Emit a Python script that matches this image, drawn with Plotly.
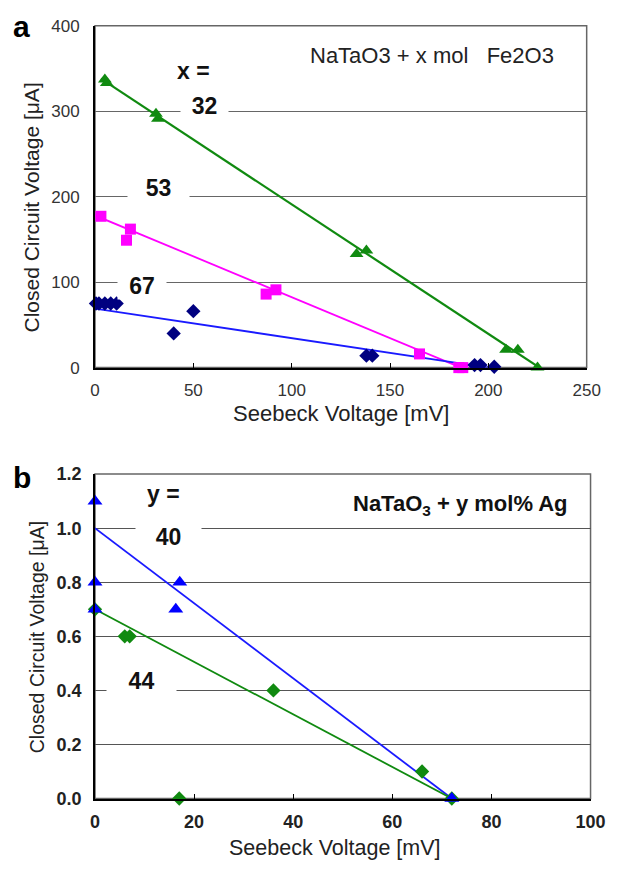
import plotly.graph_objects as go

W, H = 622, 873

# ---------- Panel a data (NaTaO3 + x mol Fe2O3) ----------
fe32_x = [5, 6, 31, 32, 133, 138, 209, 215, 225]
fe32_y = [337, 333, 297, 291, 133, 137, 21, 21, 0]
fe53_x = [3, 16, 18, 87, 92, 165, 185, 187]
fe53_y = [177, 149, 162, 86, 91, 16, 0, 0]
fe67_x = [0.5, 2, 5, 8, 11, 40, 50, 138, 141, 193, 196, 203]
fe67_y = [75, 75, 75, 75, 75, 40, 66, 14, 14, 3, 3, 1]
fit32_x, fit32_y = [3, 226], [338, 0]
fit53_x, fit53_y = [0, 186], [178, 0]
fit67_x, fit67_y = [0, 200], [69, 0]

# ---------- Panel b data (NaTaO3 + y mol% Ag) ----------
ag40_x = [0, 0, 0, 16.3, 17.1, 72]
ag40_y = [1.1, 0.8, 0.7, 0.7, 0.8, 0]
ag44_x = [0, 6, 7, 17, 36, 66, 72]
ag44_y = [0.7, 0.6, 0.6, 0, 0.4, 0.1, 0]
fit40_x, fit40_y = [0, 72], [1.0, 0]
fit44_x, fit44_y = [0, 72], [0.7, 0]

FONT = "Arial, Liberation Sans, sans-serif"


def px(x):
    return x / W


def py(y):
    return 1 - y / H


fig = go.Figure()

# Panel a traces
fig.add_trace(go.Scatter(x=fit32_x, y=fit32_y, mode="lines", line=dict(color="#108a10", width=2.2),
                         xaxis="x", yaxis="y", showlegend=False))
fig.add_trace(go.Scatter(x=fit53_x, y=fit53_y, mode="lines", line=dict(color="#ff00ff", width=1.8),
                         xaxis="x", yaxis="y", showlegend=False))
fig.add_trace(go.Scatter(x=fit67_x, y=fit67_y, mode="lines", line=dict(color="#1a1aff", width=1.8),
                         xaxis="x", yaxis="y", showlegend=False))
fig.add_trace(go.Scatter(x=fe32_x, y=fe32_y, mode="markers",
                         marker=dict(symbol="triangle-up", size=12, color="#108a10"),
                         xaxis="x", yaxis="y", showlegend=False, cliponaxis=False))
fig.add_trace(go.Scatter(x=fe53_x, y=fe53_y, mode="markers",
                         marker=dict(symbol="square", size=11, color="#ff00ff"),
                         xaxis="x", yaxis="y", showlegend=False, cliponaxis=False))
fig.add_trace(go.Scatter(x=fe67_x, y=fe67_y, mode="markers",
                         marker=dict(symbol="diamond", size=11, color="#000080"),
                         xaxis="x", yaxis="y", showlegend=False, cliponaxis=False))

# Panel b traces
fig.add_trace(go.Scatter(x=fit40_x, y=fit40_y, mode="lines", line=dict(color="#1a1aff", width=1.8),
                         xaxis="x2", yaxis="y2", showlegend=False))
fig.add_trace(go.Scatter(x=fit44_x, y=fit44_y, mode="lines", line=dict(color="#108a10", width=1.8),
                         xaxis="x2", yaxis="y2", showlegend=False))
fig.add_trace(go.Scatter(x=ag44_x, y=ag44_y, mode="markers",
                         marker=dict(symbol="diamond", size=11, color="#108a10"),
                         xaxis="x2", yaxis="y2", showlegend=False, cliponaxis=False))
fig.add_trace(go.Scatter(x=ag40_x, y=ag40_y, mode="markers",
                         marker=dict(symbol="triangle-up", size=13, color="#0000ff"),
                         xaxis="x2", yaxis="y2", showlegend=False, cliponaxis=False))

axis_common = dict(showline=True, linecolor="black", linewidth=2, zeroline=False,
                   ticks="inside", ticklen=5, tickcolor="black", tickwidth=1)

fig.update_layout(
    width=W, height=H,
    margin=dict(l=0, r=0, t=0, b=0),
    paper_bgcolor="white", plot_bgcolor="white",
    font=dict(family=FONT, color="#222"),
    xaxis=dict(domain=[px(93), px(601)], range=[0, 250], dtick=50, anchor="y",
               showgrid=False, tickfont=dict(size=17, color="#333"),
               ticklabelstandoff=6, **axis_common),
    yaxis=dict(domain=[py(366), py(16)], range=[0, 400], dtick=100, anchor="x",
               showgrid=True, gridcolor="#666", gridwidth=1.3,
               tickfont=dict(size=17, color="#333"), ticklabelstandoff=10,
               **{**axis_common, "ticks": ""}),
    xaxis2=dict(domain=[px(93), px(605)], range=[0, 100], dtick=20, anchor="y2",
                showgrid=False, tickfont=dict(size=18, color="#222", weight="bold"),
                ticklabelstandoff=6, **axis_common),
    yaxis2=dict(domain=[py(807), py(475)], range=[0, 1.2], dtick=0.2, tickformat=".1f",
                anchor="x2", showgrid=True, gridcolor="#555", gridwidth=1.3,
                tickfont=dict(size=18, color="#222", weight="bold"), ticklabelstandoff=8,
                **{**axis_common, "ticks": ""}),
)

# grey frames on top/right
for xr, yr in (("x domain", "y domain"), ("x2 domain", "y2 domain")):
    fig.add_shape(type="rect", xref=xr, yref=yr, x0=0, x1=1, y0=0, y1=1,
                  line=dict(color="#666", width=1.5), layer="below")

ann = []


def label(text, x, y, size, bold=False, bg=None, width=None, color="#111"):
    d = dict(text=text, x=px(x), y=py(y), xref="paper", yref="paper", showarrow=False,
             xanchor="center", yanchor="middle",
             font=dict(family=FONT, size=size, color=color, weight="bold" if bold else "normal"))
    if bg:
        d["bgcolor"] = bg
        d["borderpad"] = 0
    if width:
        d["width"] = width
    ann.append(d)


# panel letters
label("a", 17, 17, 30, bold=True, color="#000")
label("b", 18, 478, 30, bold=True, color="#000")

# Panel a texts
label("NaTaO3 + x mol   Fe2O3", 441, 47, 22, color="#222")
label("x =", 195, 62, 23, bold=True, bg="white")
label("32", 206, 98, 23, bold=True, bg="white", width=47)
label("53", 159, 182, 23, bold=True, bg="white", width=61)
label("67", 142, 282, 23, bold=True, bg="white", width=48)
label("Seebeck Voltage [mV]", 347, 413, 22, color="#222")
ann.append(dict(text="Closed Circuit Voltage [μA]", x=px(27), y=py(202), xref="paper", yref="paper",
                showarrow=False, textangle=-90, xanchor="center", yanchor="middle",
                font=dict(family=FONT, size=21, color="#222")))

# Panel b texts
label("NaTaO<sub>3</sub> + y mol% Ag", 471, 507, 22, bold=True, color="#111")
label("y =", 164, 495, 23, bold=True, bg="white")
label("40", 169, 539, 23, bold=True, bg="white", width=65)
label("44", 141, 687, 23, bold=True, bg="white", width=69)
label("Seebeck Voltage [mV]", 341, 858, 21.5, color="#222")
ann.append(dict(text="Closed Circuit Voltage [μA]", x=px(33), y=py(642), xref="paper", yref="paper",
                showarrow=False, textangle=-90, xanchor="center", yanchor="middle",
                font=dict(family=FONT, size=19.5, color="#222")))

fig.update_layout(annotations=ann)

fig.write_html("out.html")
